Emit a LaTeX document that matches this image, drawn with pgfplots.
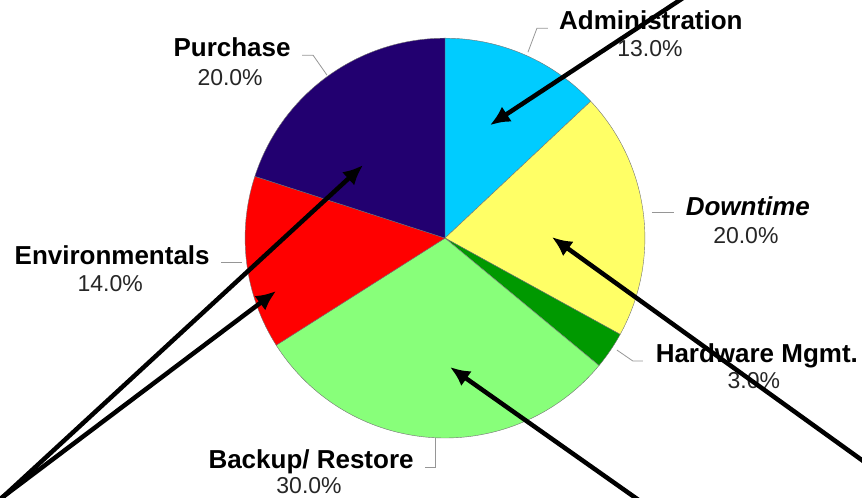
\documentclass[border=0pt]{standalone}
\usepackage{pgfplots}
\pgfplotsset{compat=1.18}
\usepackage{fontspec}
\setmainfont{Liberation Sans}
\usetikzlibrary{arrows.meta}
\definecolor{cAdmin}{RGB}{0,204,255}
\definecolor{cDown}{RGB}{255,255,102}
\definecolor{cHard}{RGB}{0,153,0}
\definecolor{cBack}{RGB}{136,255,122}
\definecolor{cEnv}{RGB}{255,0,0}
\definecolor{cPur}{RGB}{34,0,112}
\definecolor{leader}{RGB}{150,150,150}
% #1 cumulative percent before slice, #2 percent, #3 colour
\newcommand\slice[3]{%
  \fill[#3, draw=black!55, line width=0.4pt] (axis cs:445,238) -- ++({90-3.6*#1}:200pt)
    arc[start angle={90-3.6*#1}, delta angle={-3.6*#2}, radius=200pt] -- cycle;}
\begin{document}
\begin{tikzpicture}
\begin{axis}[
  x=1pt, y=1pt, xmin=0, xmax=862, ymin=0, ymax=498,
  y dir=reverse, hide axis, clip mode=individual,
]
\addplot[draw=none, forget plot] coordinates {(0,0) (862,498)};
% slices: Administration 13, Downtime 20, Hardware Mgmt. 3, Backup/Restore 30, Environmentals 14, Purchase 20
\slice{0}{13}{cAdmin}
\slice{13}{20}{cDown}
\slice{33}{3}{cHard}
\slice{36}{30}{cBack}
\slice{66}{14}{cEnv}
\slice{80}{20}{cPur}
% leader lines
\addplot[leader, line width=0.8pt] coordinates {(528,52) (537,28) (548,28)};
\addplot[leader, line width=0.8pt] coordinates {(652,212) (674,212)};
\addplot[leader, line width=0.8pt] coordinates {(617,350) (633,361) (643,361)};
\addplot[leader, line width=0.8pt] coordinates {(327,75) (313,55) (302,55)};
\addplot[leader, line width=0.8pt] coordinates {(242,262) (221,262)};
\addplot[leader, line width=0.8pt] coordinates {(435,438) (435,467) (425,467)};
% labels
\def\bf{\fontsize{26}{28}\selectfont\bfseries}
\def\pc{\fontsize{23}{26}\selectfont}
\tikzset{lb/.style={anchor=base, inner sep=0pt, font=\bf},
         pl/.style={anchor=base, inner sep=0pt, font=\pc, text=black!85}}
\node[lb] at (axis cs:651,29) {Administration};
\node[pl] at (axis cs:650,56) {13.0\%};
\node[lb, font=\bf\itshape] at (axis cs:748,215) {Downtime};
\node[pl] at (axis cs:746,243) {20.0\%};
\node[lb] at (axis cs:757,362) {Hardware Mgmt.};
\node[pl] at (axis cs:754,388) {3.0\%};
\node[lb] at (axis cs:232,56) {Purchase};
\node[pl] at (axis cs:230,85) {20.0\%};
\node[lb] at (axis cs:112,264) {Environmentals};
\node[pl] at (axis cs:110,291) {14.0\%};
\node[lb] at (axis cs:311,469) {Backup/ Restore};
\node[pl] at (axis cs:309,494) {30.0\%};
% arrows
\pgfplotsset{arr/.style={black, line width=4.5pt, -{Latex[length=20pt, width=18pt]}}}
\addplot[arr] coordinates {(695,-10) (490,125)};
\addplot[arr] coordinates {(880,473) (552,237)};
\addplot[arr] coordinates {(650,508) (450,367)};
\addplot[arr] coordinates {(-6,505) (363,165)};
\addplot[arr] coordinates {(-8,505) (276,291)};
\end{axis}
\end{tikzpicture}
\end{document}
